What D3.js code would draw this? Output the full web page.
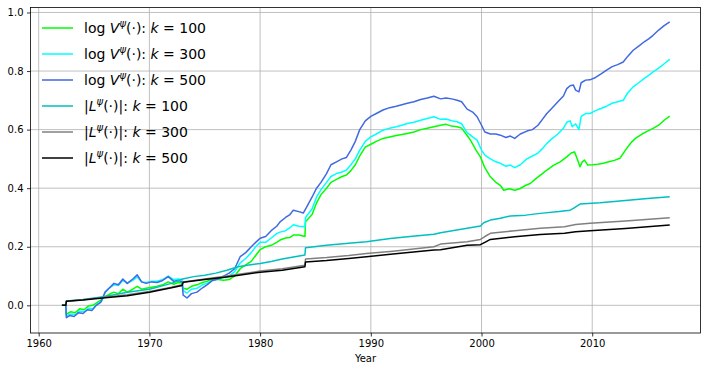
<!DOCTYPE html>
<html>
<head>
<meta charset="utf-8">
<script src="https://cdn.jsdelivr.net/npm/d3@7"></script>
<style>
  body { margin: 0; background: white; }
  text { font-family: "DejaVu Sans", sans-serif; }
</style>
</head>
<body>
<div id="chart"></div>
<script>
// log V, k = 100 / 300 / 500  ([year, value])
var logV100 = [[1962.1,0],[1962.45,0],[1962.5,-0.03],[1962.9,-0.022],[1963.3,-0.025],[1963.7,-0.012],[1964.1,-0.015],[1964.5,-0.002],[1964.9,0],[1965.3,0.01],[1965.7,0.02],[1966,0.03],[1966.4,0.038],[1966.8,0.045],[1967.2,0.04],[1967.6,0.055],[1968,0.045],[1968.5,0.055],[1968.9,0.065],[1969.3,0.055],[1969.7,0.058],[1970.2,0.062],[1970.7,0.065],[1971.2,0.07],[1971.7,0.08],[1972.2,0.072],[1972.6,0.078],[1972.95,0.077],[1973.05,0.058],[1973.4,0.055],[1973.8,0.065],[1974.3,0.07],[1974.8,0.078],[1975.2,0.082],[1975.7,0.089],[1976.2,0.088],[1976.7,0.086],[1977.2,0.088],[1977.7,0.1],[1978.2,0.125],[1978.7,0.138],[1979.2,0.15],[1979.6,0.17],[1980,0.19],[1980.5,0.2],[1981,0.205],[1981.5,0.215],[1981.8,0.223],[1982.3,0.23],[1982.7,0.232],[1983,0.24],[1983.5,0.24],[1984.05,0.235],[1984.1,0.285],[1984.7,0.31],[1985.1,0.35],[1985.5,0.378],[1986,0.4],[1986.4,0.42],[1986.9,0.43],[1987.4,0.44],[1987.8,0.445],[1988.2,0.46],[1988.6,0.48],[1989,0.51],[1989.5,0.54],[1990,0.55],[1990.5,0.56],[1991.1,0.57],[1991.7,0.575],[1992.3,0.58],[1992.8,0.583],[1993.3,0.587],[1993.9,0.592],[1994.5,0.6],[1995.1,0.605],[1995.7,0.61],[1996.3,0.615],[1996.8,0.618],[1997.3,0.612],[1997.8,0.61],[1998.2,0.605],[1998.7,0.58],[1999,0.564],[1999.5,0.53],[1999.9,0.507],[2000.3,0.47],[2000.8,0.439],[2001.3,0.42],[2001.7,0.41],[2002,0.393],[2002.5,0.398],[2003,0.393],[2003.5,0.399],[2004,0.41],[2004.4,0.416],[2005,0.435],[2005.5,0.45],[2005.9,0.462],[2006.5,0.478],[2007.1,0.49],[2007.7,0.507],[2008.1,0.52],[2008.4,0.524],[2008.6,0.505],[2008.9,0.473],[2009.1,0.49],[2009.3,0.496],[2009.6,0.479],[2010,0.48],[2010.5,0.482],[2011,0.485],[2011.5,0.49],[2012,0.495],[2012.5,0.502],[2013,0.53],[2013.5,0.555],[2013.9,0.57],[2014.5,0.585],[2015,0.595],[2015.5,0.604],[2016,0.615],[2016.5,0.632],[2017,0.646]];

var logV300 = [[1962.1,0],[1962.45,0],[1962.5,-0.035],[1962.9,-0.03],[1963.3,-0.032],[1963.7,-0.02],[1964.1,-0.022],[1964.5,-0.01],[1964.9,-0.012],[1965.3,0.005],[1965.7,0.015],[1966,0.045],[1966.4,0.06],[1966.8,0.07],[1967.2,0.068],[1967.6,0.085],[1968,0.075],[1968.5,0.085],[1968.9,0.097],[1969.3,0.08],[1969.7,0.078],[1970.2,0.082],[1970.7,0.082],[1971.2,0.088],[1971.7,0.1],[1972.2,0.088],[1972.6,0.09],[1972.95,0.088],[1973.05,0.05],[1973.4,0.042],[1973.8,0.055],[1974.3,0.058],[1974.8,0.07],[1975.2,0.075],[1975.7,0.085],[1976.2,0.09],[1976.7,0.095],[1977.2,0.1],[1977.7,0.115],[1978.2,0.145],[1978.7,0.16],[1979.2,0.18],[1979.6,0.2],[1980,0.215],[1980.5,0.215],[1981,0.23],[1981.5,0.245],[1981.8,0.25],[1982.3,0.255],[1982.7,0.265],[1983,0.275],[1983.5,0.27],[1984.05,0.268],[1984.1,0.3],[1984.7,0.33],[1985.1,0.37],[1985.5,0.395],[1986,0.42],[1986.4,0.44],[1986.9,0.45],[1987.4,0.455],[1987.8,0.462],[1988.2,0.48],[1988.6,0.5],[1989,0.53],[1989.5,0.56],[1990,0.575],[1990.5,0.585],[1991.1,0.598],[1991.7,0.605],[1992.3,0.61],[1992.8,0.615],[1993.3,0.621],[1993.9,0.625],[1994.5,0.632],[1995.1,0.638],[1995.7,0.644],[1996.3,0.635],[1996.8,0.636],[1997.3,0.63],[1997.8,0.627],[1998.2,0.62],[1998.7,0.59],[1999.2,0.575],[1999.6,0.564],[2000,0.53],[2000.3,0.513],[2000.8,0.5],[2001.3,0.49],[2001.7,0.485],[2002.2,0.475],[2002.6,0.479],[2003,0.47],[2003.5,0.48],[2004.1,0.5],[2004.6,0.51],[2005.1,0.52],[2005.5,0.535],[2005.9,0.553],[2006.4,0.57],[2006.9,0.585],[2007.4,0.605],[2007.7,0.625],[2008,0.63],[2008.2,0.61],[2008.5,0.62],[2008.8,0.6],[2009,0.645],[2009.4,0.655],[2009.8,0.655],[2010.3,0.665],[2010.8,0.672],[2011.3,0.68],[2011.8,0.69],[2012.3,0.695],[2012.8,0.7],[2013.2,0.725],[2013.7,0.746],[2014.2,0.76],[2014.7,0.775],[2015.1,0.785],[2015.5,0.797],[2016,0.81],[2016.5,0.825],[2017,0.84]];

var logV500 = [[1962.1,0],[1962.45,0],[1962.5,-0.042],[1962.8,-0.035],[1963.2,-0.038],[1963.6,-0.025],[1964,-0.028],[1964.4,-0.015],[1964.8,-0.018],[1965.2,0],[1965.6,0.01],[1966,0.045],[1966.4,0.06],[1966.8,0.075],[1967.2,0.07],[1967.6,0.09],[1968,0.075],[1968.5,0.09],[1968.9,0.104],[1969.3,0.08],[1969.7,0.075],[1970.2,0.08],[1970.7,0.078],[1971.2,0.085],[1971.7,0.098],[1972.2,0.082],[1972.6,0.085],[1972.95,0.08],[1973.05,0.035],[1973.4,0.025],[1973.8,0.04],[1974.3,0.045],[1974.8,0.06],[1975.2,0.07],[1975.7,0.085],[1976.2,0.09],[1976.7,0.1],[1977.2,0.11],[1977.7,0.125],[1978.2,0.166],[1978.7,0.18],[1979.2,0.2],[1979.6,0.215],[1980,0.229],[1980.5,0.235],[1981,0.255],[1981.5,0.27],[1981.8,0.285],[1982.3,0.3],[1982.7,0.31],[1983,0.325],[1983.5,0.32],[1983.9,0.315],[1984.2,0.335],[1984.7,0.37],[1985.1,0.4],[1985.5,0.42],[1986,0.45],[1986.4,0.48],[1986.9,0.49],[1987.4,0.5],[1987.8,0.505],[1988.2,0.53],[1988.6,0.56],[1989,0.6],[1989.5,0.63],[1990,0.645],[1990.5,0.655],[1991.1,0.667],[1991.7,0.675],[1992.3,0.68],[1992.8,0.685],[1993.3,0.69],[1993.9,0.695],[1994.5,0.703],[1995.1,0.708],[1995.7,0.714],[1996.3,0.705],[1996.8,0.708],[1997.3,0.705],[1997.8,0.7],[1998.2,0.695],[1998.7,0.67],[1999.2,0.66],[1999.6,0.644],[2000,0.615],[2000.3,0.592],[2000.8,0.585],[2001.3,0.585],[2001.7,0.581],[2002.2,0.573],[2002.6,0.578],[2003,0.57],[2003.5,0.585],[2004.1,0.595],[2004.6,0.6],[2005.1,0.615],[2005.5,0.635],[2005.9,0.655],[2006.4,0.675],[2006.9,0.695],[2007.4,0.715],[2007.7,0.74],[2008,0.75],[2008.3,0.752],[2008.5,0.735],[2008.8,0.729],[2009,0.76],[2009.4,0.769],[2009.8,0.77],[2010.3,0.778],[2010.8,0.79],[2011.3,0.803],[2011.8,0.815],[2012.3,0.822],[2012.8,0.831],[2013.2,0.85],[2013.7,0.871],[2014.2,0.885],[2014.7,0.9],[2015.1,0.91],[2015.5,0.922],[2016,0.94],[2016.5,0.955],[2017,0.968]];

// |L|, k = 100 / 300 / 500
var absL100 = [[1962.1,0],[1962.45,0],[1962.5,0.015],[1964,0.02],[1966,0.03],[1968,0.045],[1970,0.055],[1972,0.075],[1973,0.09],[1974,0.098],[1975,0.103],[1976,0.11],[1977,0.12],[1978,0.132],[1979,0.138],[1980,0.143],[1981,0.15],[1982,0.158],[1983,0.165],[1984.05,0.172],[1984.1,0.197],[1986,0.205],[1988,0.212],[1989.6,0.217],[1991.75,0.228],[1994,0.237],[1995.7,0.243],[1996.3,0.248],[1998.7,0.263],[1999.9,0.271],[2000.2,0.282],[2000.8,0.291],[2001.7,0.297],[2002.6,0.305],[2004,0.308],[2005.3,0.314],[2007,0.32],[2008,0.325],[2008.3,0.331],[2008.9,0.346],[2010.7,0.35],[2013,0.358],[2015,0.365],[2017,0.371]];

var absL300 = [[1962.1,0],[1962.45,0],[1962.5,0.014],[1964,0.019],[1966,0.028],[1968,0.036],[1970,0.047],[1972,0.062],[1972.95,0.07],[1973.05,0.08],[1975,0.09],[1977,0.1],[1980,0.117],[1982,0.125],[1984.05,0.137],[1984.1,0.158],[1986,0.163],[1988,0.17],[1989.6,0.177],[1992,0.185],[1995.7,0.2],[1996.3,0.209],[1998.7,0.217],[1999.9,0.225],[2000.3,0.235],[2000.8,0.246],[2003,0.255],[2005.3,0.263],[2007.5,0.268],[2008.5,0.276],[2009.8,0.28],[2013,0.288],[2017,0.299]];

var absL500 = [[1962.1,0],[1962.45,0],[1962.5,0.014],[1964,0.018],[1966,0.026],[1968,0.033],[1970,0.045],[1972,0.06],[1972.95,0.068],[1973.05,0.079],[1975,0.088],[1977,0.097],[1980,0.113],[1982,0.12],[1984.05,0.132],[1984.1,0.148],[1986,0.153],[1988,0.16],[1989.6,0.166],[1992,0.175],[1995.7,0.189],[1996.3,0.19],[1998.7,0.205],[1999.9,0.207],[2000.3,0.215],[2000.8,0.225],[2003,0.234],[2005.3,0.242],[2007.5,0.246],[2008.5,0.251],[2009.8,0.255],[2013,0.262],[2017,0.274]];

var kValues = ["100", "300", "500", "100", "300", "500"];
var xTicks = [1960, 1970, 1980, 1990, 2000, 2010];
var yTicks = [0.0, 0.2, 0.4, 0.6, 0.8, 1.0];

var series = [
  { data: logV100, kind: "V", k: kValues[0], color: "#00ff00" },
  { data: logV300, kind: "V", k: kValues[1], color: "#00ffff" },
  { data: logV500, kind: "V", k: kValues[2], color: "#4169e1" },
  { data: absL100, kind: "L", k: kValues[3], color: "#00bfbf" },
  { data: absL300, kind: "L", k: kValues[4], color: "#808080" },
  { data: absL500, kind: "L", k: kValues[5], color: "#000000" }
];

var W = 706, H = 371;
var plotL = 30.5, plotR = 700.5, plotT = 7.5, plotB = 333;

var svg = d3.select("#chart").append("svg")
  .attr("width", W)
  .attr("height", H)
  .style("background-color", "white");

var x = d3.scaleLinear().domain([1959.26, 2019.78]).range([plotL, plotR]);
var y = d3.scaleLinear().domain([-0.0945, 1.017]).range([plotB, plotT]);

//grid
svg.append("g").selectAll("line").data(xTicks).join("line")
  .attr("x1", d => x(d)).attr("x2", d => x(d))
  .attr("y1", plotT).attr("y2", plotB)
  .attr("stroke", "#b0b0b0").attr("stroke-width", 0.8);

svg.append("g").selectAll("line").data(yTicks).join("line")
  .attr("x1", plotL).attr("x2", plotR)
  .attr("y1", d => y(d)).attr("y2", d => y(d))
  .attr("stroke", "#b0b0b0").attr("stroke-width", 0.8);

//axes
var xAxis = svg.append("g")
  .attr("transform", "translate(0," + plotB + ")")
  .call(d3.axisBottom(x).tickValues(xTicks).tickFormat(d3.format("d")).tickSizeOuter(0).tickSize(3.5).tickPadding(3.5));

var yAxis = svg.append("g")
  .attr("transform", "translate(" + plotL + ",0)")
  .call(d3.axisLeft(y).tickValues(yTicks).tickFormat(d3.format(".1f")).tickSizeOuter(0).tickSize(3.5).tickPadding(3.5));

[xAxis, yAxis].forEach(function (g) {
  g.select(".domain").remove();
  g.selectAll("text").attr("font-size", 10).attr("fill", "#000")
    .style("font-family", "DejaVu Sans, sans-serif");
  g.selectAll("line").attr("stroke", "#000").attr("stroke-width", 0.8);
});

//lines
var line = d3.line().x(d => x(d[0])).y(d => y(d[1]));

series.forEach(function (s) {
  svg.append("path")
    .attr("d", line(s.data))
    .attr("fill", "none")
    .attr("stroke", s.color)
    .attr("stroke-width", 1.5)
    .attr("stroke-linejoin", "round");
});

//frame
svg.append("rect")
  .attr("x", plotL).attr("y", plotT)
  .attr("width", plotR - plotL).attr("height", plotB - plotT)
  .attr("fill", "none").attr("stroke", "#000").attr("stroke-width", 0.8);

svg.append("text")
  .attr("x", (plotL + plotR) / 2).attr("y", 362)
  .attr("text-anchor", "middle")
  .attr("font-size", 10)
  .text("Year");

//legend
var legend = svg.append("g");
series.forEach(function (s, i) {
  var ly = 28 + i * 26;
  legend.append("line")
    .attr("x1", 42).attr("x2", 73)
    .attr("y1", ly).attr("y2", ly)
    .attr("stroke", s.color).attr("stroke-width", 1.5);

  var t = legend.append("text")
    .attr("x", 84).attr("y", ly + 5)
    .attr("font-size", 14)
    .attr("fill", "#000");

  if (s.kind == "V") {
    t.append("tspan").text("log ");
    t.append("tspan").attr("font-style", "italic").text("V");
  } else {
    t.append("tspan").text("|");
    t.append("tspan").attr("font-style", "italic").text("L");
  }
  t.append("tspan").attr("dy", -6).attr("font-size", 10).attr("font-style", "italic").text("ψ");
  t.append("tspan").attr("dy", 6).text(s.kind == "V" ? "(·): " : "(·)|: ");
  t.append("tspan").attr("font-style", "italic").text("k");
  t.append("tspan").text(" = " + s.k);
});
</script>
</body>
</html>
